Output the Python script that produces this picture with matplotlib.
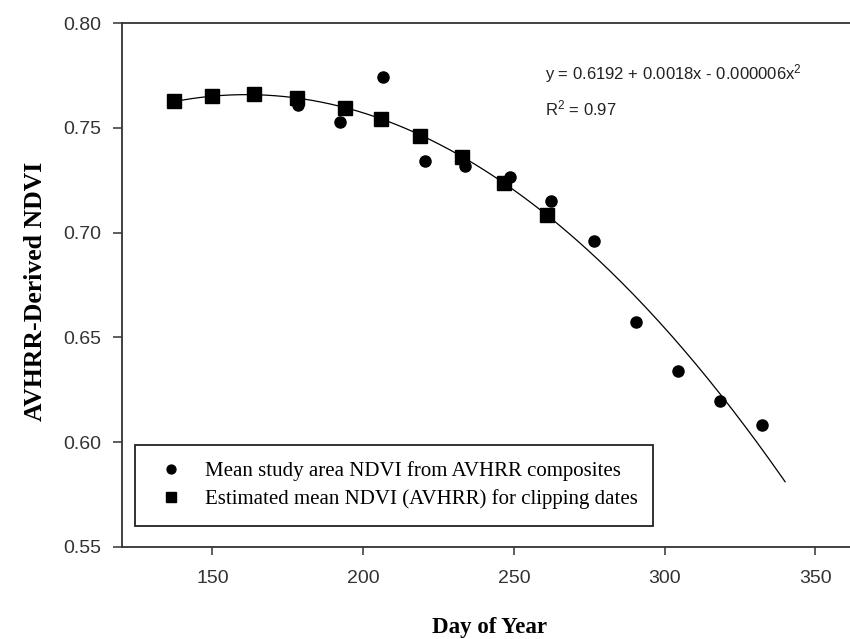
import matplotlib
matplotlib.use("Agg")
import matplotlib.pyplot as plt
import numpy as np

plt.rcParams['mathtext.default'] = 'regular'

# mean study area NDVI from AVHRR composites (circles)
comp_day = [178.5, 192.4, 206.7, 220.6, 233.9, 248.8, 262.4, 276.7, 290.5, 304.6, 318.4, 332.3]
comp_ndvi = [0.7610, 0.7530, 0.7745, 0.7344, 0.7319, 0.7267, 0.7151, 0.6962, 0.6575, 0.6341, 0.6198, 0.6083]

# estimated mean NDVI for clipping dates (squares)
clip_day = [137.1, 149.8, 163.9, 178.0, 194.0, 206.0, 218.9, 232.7, 246.6, 261.0]
clip_ndvi = [0.7629, 0.7654, 0.7662, 0.7642, 0.7594, 0.7543, 0.7462, 0.7360, 0.7236, 0.7085]

labels = ["Mean study area NDVI from AVHRR composites",
          "Estimated mean NDVI (AVHRR) for clipping dates"]
equation = "y = 0.6192 + 0.0018x - 0.000006x$^2$"
r2_text = "R$^2$ = 0.97"

W, H = 850, 639
fig = plt.figure(figsize=(W / 100, H / 100), dpi=100)
# axes run past the right edge, the original figure is cropped there
ax = fig.add_axes([122 / W, 1 - 546.7 / H, 260 * 3.014 / W, (546.7 - 23.3) / H])

# quadratic trend through the composite values
coef = np.polyfit(comp_day, comp_ndvi, 2)
xs = np.linspace(137, 340, 200)
ax.plot(xs, np.polyval(coef, xs), color='black', lw=0.9, zorder=2)

ax.plot(comp_day, comp_ndvi, 'o', color='black', ms=8, label=labels[0], zorder=3)
ax.plot(clip_day, clip_ndvi, 's', color='black', ms=9.5, label=labels[1], zorder=3)

ax.set_xlim(120, 380)
ax.set_ylim(0.55, 0.80)
ax.set_xticks([150, 200, 250, 300, 350])
ax.set_yticks([0.55, 0.60, 0.65, 0.70, 0.75, 0.80])
ax.set_yticklabels(["%.2f" % v for v in ax.get_yticks()])

for s in ax.spines.values():
    s.set_linewidth(1.3)
    s.set_color('#333333')
ax.tick_params(direction='out', color='#333333', width=1.1, labelcolor='#333333')
ax.tick_params(axis='y', length=6.5, pad=8.5, labelsize=14, labelfontfamily='Liberation Sans')
ax.tick_params(axis='x', length=6, pad=11, labelsize=14, labelfontfamily='Liberation Sans')

fig.text(489 / W, 1 - 627 / H, "Day of Year", ha='center', va='center',
         family='Liberation Serif', weight='bold', fontsize=16.5)
fig.text(36 / W, 1 - 291 / H, "AVHRR-Derived NDVI", ha='center', va='center', rotation=90,
         family='Liberation Serif', weight='bold', fontsize=18.5)

fig.text(545 / W, 1 - 74 / H, equation, ha='left', va='center',
         family='Liberation Sans', fontsize=12, color='#222222')
fig.text(545 / W, 1 - 108 / H, r2_text, ha='left', va='center',
         family='Liberation Sans', fontsize=12, color='#222222')

leg = ax.legend(loc='lower left',
                bbox_to_anchor=(135 / W, 1 - 526 / H, (653 - 135) / W, 0.05),
                bbox_transform=fig.transFigure, mode='expand', borderaxespad=0,
                prop={'family': 'Liberation Serif', 'size': 15},
                fancybox=False, framealpha=1, edgecolor='#222222',
                markerscale=0.8, handlelength=1.9, handletextpad=0.65,
                borderpad=0.8, labelspacing=0.4)
leg.get_frame().set_linewidth(1.3)

fig.savefig("out.png", dpi=100)
